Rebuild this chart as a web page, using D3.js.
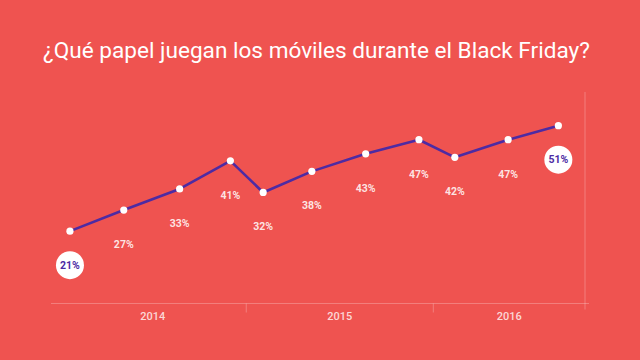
<!DOCTYPE html>
<html><head><meta charset="utf-8">
<script src="https://cdn.jsdelivr.net/npm/d3@7"></script>
<style>html,body{margin:0;padding:0;background:#ef5350;}svg{display:block;}</style>
</head><body>
<script>
const title = "¿Qué papel juegan los móviles durante el Black Friday?";
const dates = ["2014-01-22","2014-05-07","2014-08-24","2014-12-01","2015-02-03","2015-05-09","2015-08-22","2015-12-04","2016-02-12","2016-05-26","2016-09-01"];
const values = [21,27,33,41,32,38,43,47,42,47,51];
const years = ["2014","2015","2016"];
const highlighted = [0, 10];

const W = 640, H = 360;
const parse = d3.timeParse("%Y-%m-%d");
const svg = d3.select("body").append("svg").attr("width", W).attr("height", H);
svg.append("rect").attr("width", W).attr("height", H).attr("fill", "#ef5350");

svg.append("text").attr("x", 316.5).attr("y", 58).attr("text-anchor", "middle")
  .attr("font-family", "Roboto").attr("font-size", 22.6).attr("fill", "#fff").text(title);

const x = d3.scaleTime().domain([parse("2013-12-16"), parse("2016-10-23")]).range([51, 585]);
const y = d3.scaleLinear().domain([0, 60]).range([305, 94]);

const data = dates.map((d, i) => ({date: parse(d), v: values[i], i}));

// axis
const axisY = y(0) - 1.5;
svg.append("line").attr("x1", x.range()[0]).attr("x2", x.range()[1] + 4).attr("y1", axisY).attr("y2", axisY)
  .attr("stroke", "#fff").attr("stroke-opacity", 0.25).attr("stroke-width", 1);
svg.append("line").attr("x1", x.range()[1]).attr("x2", x.range()[1]).attr("y1", y.range()[1] - 2).attr("y2", axisY + 6)
  .attr("stroke", "#fff").attr("stroke-opacity", 0.25).attr("stroke-width", 1);
const bounds = years.map(yr => parse(yr + "-01-01"));
bounds.slice(1).forEach(b => {
  svg.append("line").attr("x1", x(b)).attr("x2", x(b)).attr("y1", axisY).attr("y2", axisY + 9)
    .attr("stroke", "#fff").attr("stroke-opacity", 0.25);
});
years.forEach((yr, i) => {
  const a = Math.max(x(bounds[i]), x.range()[0]);
  const b = i < years.length - 1 ? x(bounds[i + 1]) : x.range()[1];
  svg.append("text").attr("x", (a + b) / 2).attr("y", 319.5).attr("text-anchor", "middle")
    .attr("font-family", "Roboto").attr("font-weight", 500).attr("font-size", 11)
    .attr("fill", "#fff").attr("fill-opacity", 0.78).text(yr);
});

// line
svg.append("path").datum(data)
  .attr("d", d3.line().x(d => x(d.date)).y(d => y(d.v)))
  .attr("fill", "none").attr("stroke", "#4d2ba3").attr("stroke-width", 2.6).attr("stroke-linejoin", "round");

svg.selectAll("circle.pt").data(data).join("circle").attr("class", "pt")
  .attr("cx", d => x(d.date)).attr("cy", d => y(d.v)).attr("r", 3.6).attr("fill", "#fff");

// labels
data.forEach(d => {
  const cx = x(d.date), cy = y(d.v) + 34;
  if (highlighted.includes(d.i)) {
    svg.append("circle").attr("cx", cx).attr("cy", cy).attr("r", 14).attr("fill", "#fff");
    svg.append("text").attr("x", cx).attr("y", cy + 3.8).attr("text-anchor", "middle")
      .attr("font-family", "Roboto").attr("font-weight", 700).attr("font-size", 10.5)
      .attr("fill", "#4d2ba3").text(d.v + "%");
  } else {
    svg.append("text").attr("x", cx).attr("y", cy + 3.8).attr("text-anchor", "middle")
      .attr("font-family", "Roboto").attr("font-weight", 700).attr("font-size", 10.5)
      .attr("fill", "#fff").attr("fill-opacity", 0.85).text(d.v + "%");
  }
});
</script>
</body></html>
